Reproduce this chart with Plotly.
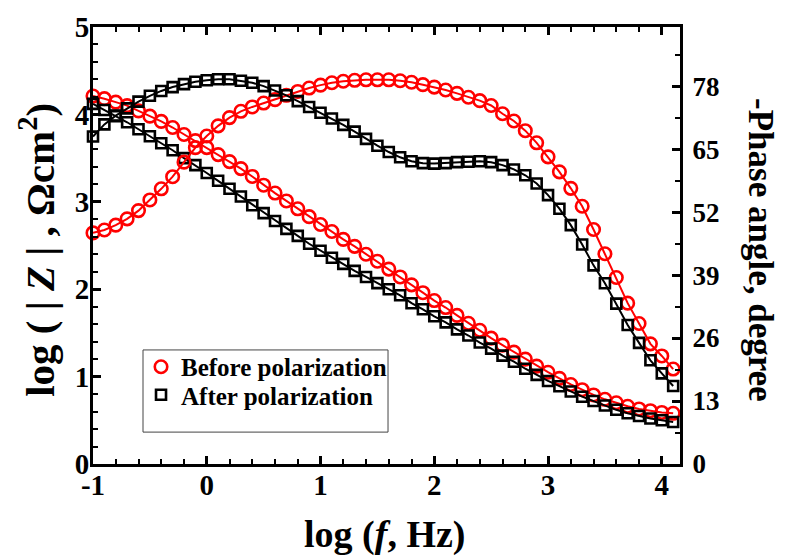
import plotly.graph_objects as go

log_f = [-1.0, -0.9, -0.8, -0.7, -0.6, -0.5, -0.4, -0.3, -0.2, -0.1,
         0.0, 0.1, 0.2, 0.3, 0.4, 0.5, 0.6, 0.7, 0.8, 0.9,
         1.0, 1.1, 1.2, 1.3, 1.4, 1.5, 1.6, 1.7, 1.8, 1.9,
         2.0, 2.1, 2.2, 2.3, 2.4, 2.5, 2.6, 2.7, 2.8, 2.9,
         3.0, 3.1, 3.2, 3.3, 3.4, 3.5, 3.6, 3.7, 3.8, 3.9,
         4.0, 4.1]

# log|Z| before polarization
logz_before = [4.21, 4.18, 4.14, 4.10, 4.04, 3.98, 3.92, 3.85, 3.77, 3.70,
               3.62, 3.54, 3.46, 3.38, 3.29, 3.19, 3.10, 3.01, 2.92, 2.83,
               2.74, 2.66, 2.57, 2.49, 2.40, 2.32, 2.23, 2.14, 2.05, 1.96,
               1.87, 1.79, 1.70, 1.61, 1.53, 1.44, 1.36, 1.28, 1.20, 1.12,
               1.05, 0.98, 0.91, 0.85, 0.79, 0.74, 0.70, 0.66, 0.63, 0.61,
               0.59, 0.58]

# log|Z| after polarization
logz_after = [4.12, 4.05, 3.98, 3.91, 3.83, 3.75, 3.67, 3.59, 3.50, 3.42,
              3.33, 3.24, 3.15, 3.06, 2.96, 2.87, 2.78, 2.69, 2.61, 2.52,
              2.44, 2.36, 2.29, 2.21, 2.14, 2.07, 2.00, 1.93, 1.84, 1.77,
              1.69, 1.62, 1.54, 1.47, 1.39, 1.32, 1.24, 1.17, 1.09, 1.02,
              0.95, 0.89, 0.83, 0.77, 0.72, 0.67, 0.62, 0.58, 0.55, 0.52,
              0.50, 0.48]

# -phase angle before polarization (degree)
phase_before = [47.7, 48.3, 49.3, 50.6, 52.3, 54.5, 56.8, 59.3, 62.3, 65.3,
                67.7, 69.8, 71.5, 72.8, 73.7, 74.5, 75.2, 76.1, 76.9, 77.6,
                78.2, 78.7, 79.0, 79.2, 79.3, 79.3, 79.3, 79.1, 78.8, 78.3,
                77.8, 77.2, 76.5, 75.7, 75.0, 74.0, 72.3, 70.8, 68.8, 66.3,
                63.4, 60.3, 56.9, 53.2, 48.4, 43.4, 38.5, 33.2, 29.0, 24.8,
                22.3, 19.6]

# -phase angle after polarization (degree)
phase_after = [67.6, 70.1, 71.9, 73.4, 74.8, 76.0, 77.0, 77.8, 78.4, 78.9,
               79.2, 79.4, 79.4, 79.1, 78.7, 78.0, 77.1, 76.1, 74.9, 73.7,
               72.5, 71.3, 70.0, 68.6, 67.1, 65.7, 64.4, 63.3, 62.5, 62.1,
               62.0, 62.1, 62.3, 62.4, 62.5, 62.3, 61.7, 60.8, 59.6, 57.9,
               55.5, 52.7, 49.3, 45.3, 41.0, 37.3, 33.1, 28.7, 25.0, 21.4,
               18.7, 16.1]

x_tickvals = [-1, 0, 1, 2, 3, 4]
x_ticktext = ["-1", "0", "1", "2", "3", "4"]
y_tickvals = [0, 1, 2, 3, 4, 5]
phase_tickvals = [0, 13, 26, 39, 52, 65, 78]

series_names = ["Before polarization", "After polarization"]

RED = "#ff0000"
BLACK = "#000000"
FONT = "Liberation Serif"

fig = go.Figure()

def add_series(y, color, symbol, size, name, yaxis, legend, legend_id):
    fig.add_trace(go.Scatter(x=log_f, y=y, mode="lines", yaxis=yaxis,
                             line=dict(color=color, width=2),
                             showlegend=False, hoverinfo="skip", cliponaxis=False))
    fig.add_trace(go.Scatter(x=log_f, y=y, mode="markers", yaxis=yaxis, name=name,
                             marker=dict(symbol=symbol, size=size, color=color,
                                         line=dict(color=color, width=2.6)),
                             showlegend=legend, legend=legend_id, cliponaxis=False))

add_series(logz_before, RED, "circle-open", 12.5, series_names[0], "y", True, "legend")
add_series(logz_after, BLACK, "square-open", 10, series_names[1], "y", True, "legend2")
add_series(phase_before, RED, "circle-open", 12.5, series_names[0], "y2", False, "legend")
add_series(phase_after, BLACK, "square-open", 10, series_names[1], "y2", False, "legend2")

tickfont = dict(family=FONT, size=29, color="black", weight="bold")
legend_font = dict(family=FONT, size=25, color="black", weight="bold")

fig.update_layout(
    width=790, height=558,
    margin=dict(l=85, r=118, t=19, b=102, autoexpand=False),
    paper_bgcolor="white", plot_bgcolor="white",
    xaxis=dict(range=[-1, 4.16], tickvals=x_tickvals, ticktext=x_ticktext,
               showline=True, linewidth=3, linecolor="black", mirror="ticks",
               ticks="inside", ticklen=8, tickwidth=2.5, tickcolor="black",
               minor=dict(dtick=0.2, ticks="inside", ticklen=5, tickwidth=2, tickcolor="black"),
               showgrid=False, zeroline=False, tickfont=tickfont, ticklabelstandoff=-7,
               automargin=False),
    yaxis=dict(range=[0, 5], tickvals=y_tickvals,
               showline=True, linewidth=3, linecolor="black",
               ticks="inside", ticklen=8, tickwidth=2.5, tickcolor="black",
               minor=dict(dtick=0.2, ticks="inside", ticklen=5, tickwidth=2, tickcolor="black"),
               showgrid=False, zeroline=False, tickfont=tickfont, ticklabelstandoff=-5,
               automargin=False),
    yaxis2=dict(range=[0, 90.2], tickvals=phase_tickvals, overlaying="y", side="right",
                showline=True, linewidth=3, linecolor="black",
                ticks="inside", ticklen=8, tickwidth=2.5, tickcolor="black",
                minor=dict(dtick=6.5, ticks="inside", ticklen=5, tickwidth=2, tickcolor="black"),
                showgrid=False, zeroline=False,
                tickfont=dict(family=FONT, size=27, color="black", weight="bold"),
                ticklabelstandoff=4, automargin=False),
    legend=dict(x=0.0818, y=0.2746, xanchor="left", yanchor="top",
                bgcolor="rgba(0,0,0,0)", borderwidth=0, font=legend_font, itemwidth=30),
    legend2=dict(x=0.0818, y=0.2105, xanchor="left", yanchor="top",
                 bgcolor="rgba(0,0,0,0)", borderwidth=0, font=legend_font, itemwidth=30),
    shapes=[dict(type="rect", xref="paper", yref="paper",
                 x0=0.0852, x1=0.5026, y0=0.073, y1=0.261,
                 line=dict(color="#444444", width=1))],
    annotations=[
        dict(text="log ( | <i>Z</i> | , Ωcm<sup>2</sup>)", xref="paper", yref="paper",
             x=-0.0954, y=0.49, xanchor="center", yanchor="middle",
             textangle=-90, showarrow=False,
             font=dict(family=FONT, size=41, color="black", weight="bold")),
        dict(text="-Phase angle, degree", xref="paper", yref="paper",
             x=1.136, y=0.49, xanchor="center", yanchor="middle",
             textangle=90, showarrow=False,
             font=dict(family=FONT, size=35, color="black", weight="bold")),
        dict(text="log (<i>f</i>, Hz)", xref="paper", yref="paper",
             x=0.497, y=-0.162, xanchor="center", yanchor="middle", showarrow=False,
             font=dict(family=FONT, size=38, color="black", weight="bold")),
    ],
)

fig.write_html("out.html")
